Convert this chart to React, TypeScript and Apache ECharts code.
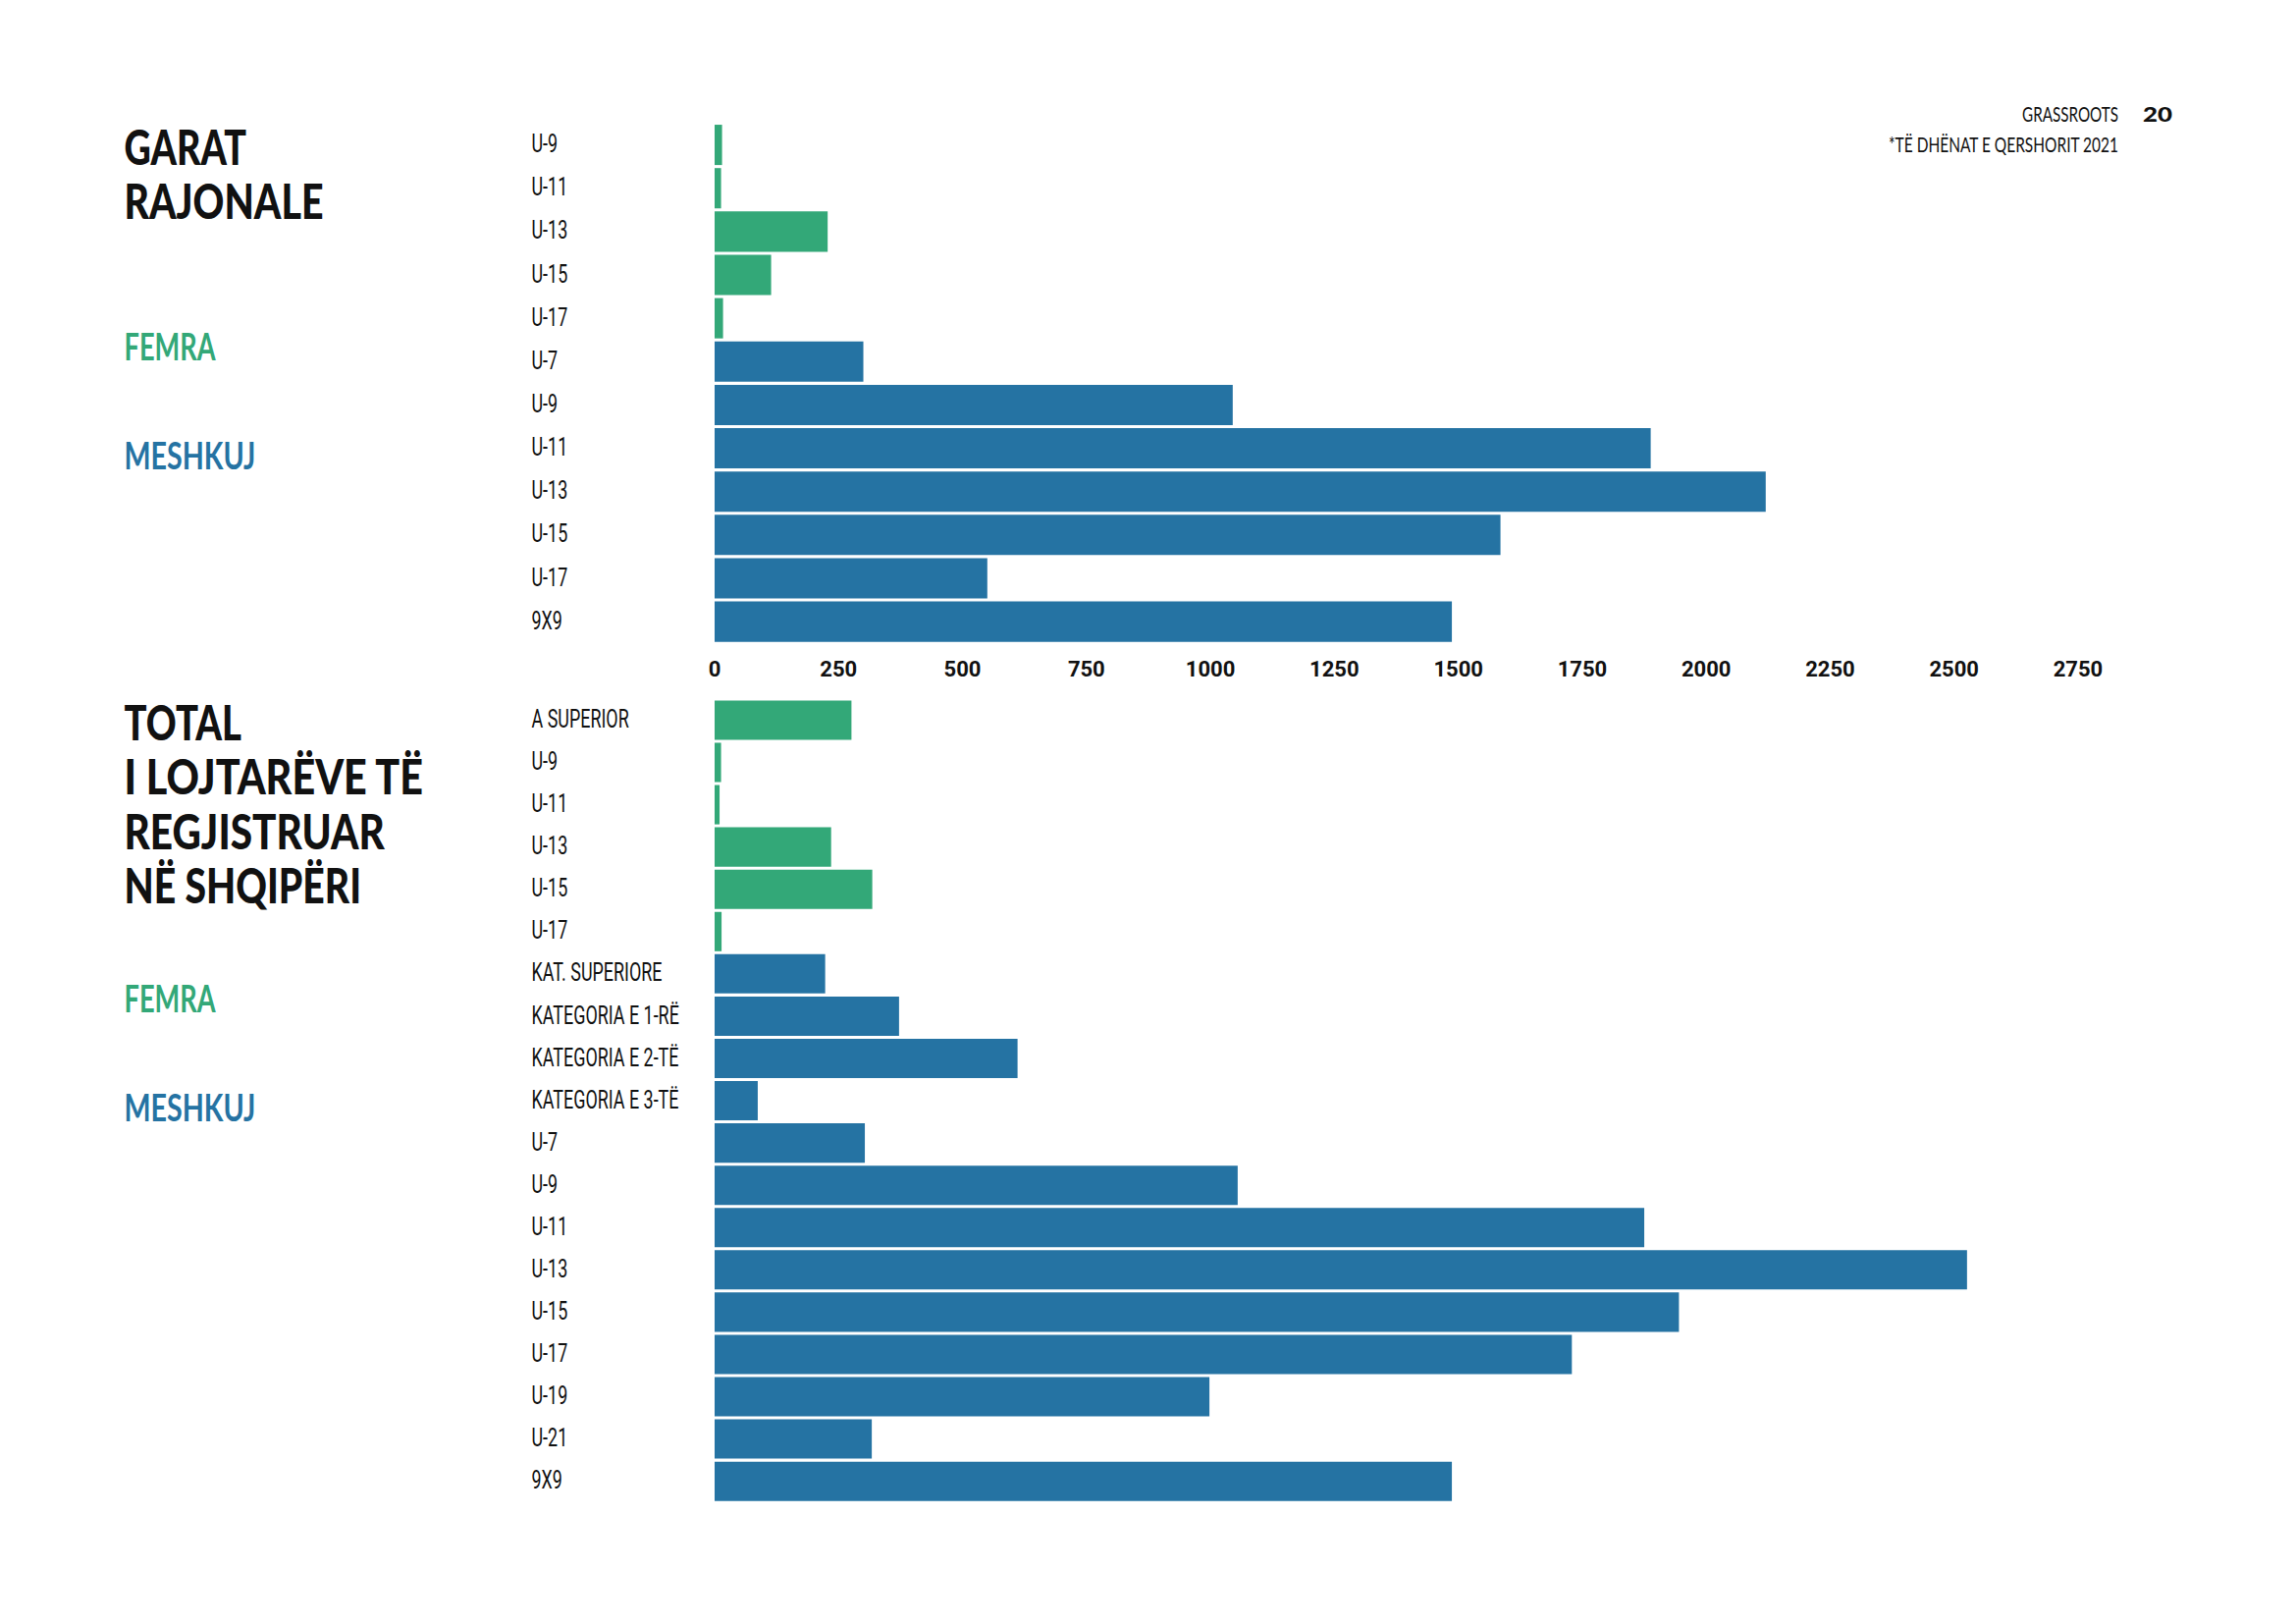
import React, { useEffect, useRef } from "react";
import * as echarts from "echarts";

// ---- data ----
const axisTicks = [0, 250, 500, 750, 1000, 1250, 1500, 1750, 2000, 2250, 2500, 2750];

const regionalFemaleCats = ["U-9", "U-11", "U-13", "U-15", "U-17"];
const regionalFemaleVals = [15, 13, 228, 114, 17];
const regionalMaleCats = ["U-7", "U-9", "U-11", "U-13", "U-15", "U-17", "9X9"];
const regionalMaleVals = [300, 1045, 1888, 2120, 1585, 550, 1487];

const totalFemaleCats = ["A SUPERIOR", "U-9", "U-11", "U-13", "U-15", "U-17"];
const totalFemaleVals = [276, 13, 10, 235, 318, 14];
const totalMaleCats = [
  "KAT. SUPERIORE",
  "KATEGORIA E 1-RË",
  "KATEGORIA E 2-TË",
  "KATEGORIA E 3-TË",
  "U-7",
  "U-9",
  "U-11",
  "U-13",
  "U-15",
  "U-17",
  "U-19",
  "U-21",
  "9X9",
];
const totalMaleVals = [223, 372, 611, 87, 303, 1055, 1875, 2526, 1945, 1729, 998, 317, 1487];

// ---- style ----
const GREEN = "#33a878";
const BLUE = "#2573a3";
const INK = "#111111";
const HEAD = "Lato, Roboto, sans-serif";
const LABEL = "Roboto, 'Noto Sans', sans-serif";

let measureCtx: CanvasRenderingContext2D | null = null;
function measure(text: string, size: number, weight: string | number, family: string) {
  if (!measureCtx) measureCtx = document.createElement("canvas").getContext("2d");
  if (!measureCtx) return 0;
  measureCtx.font = `${weight} ${size}px ${family}`;
  return measureCtx.measureText(text).width;
}
function fitScale(text: string, size: number, weight: string | number, family: string, width: number) {
  const w = measure(text, size, weight, family);
  return w > 0 ? width / w : 1;
}

function headText(
  text: string,
  x: number,
  y: number,
  size: number,
  weight: string | number,
  family: string,
  fill: string,
  width: number,
  align: "left" | "right" = "left"
) {
  return {
    type: "text",
    x,
    y,
    scaleX: fitScale(text, size, weight, family, width),
    silent: true,
    style: {
      text,
      fontSize: size,
      fontWeight: weight,
      fontFamily: family,
      fill,
      align,
      verticalAlign: "middle",
    },
  };
}

export default function App() {
  const ref = useRef<HTMLDivElement>(null);

  useEffect(() => {
    if (!ref.current) return;
    const chart = echarts.init(ref.current, undefined, { renderer: "svg" });

    const regionalCats = [...regionalFemaleCats, ...regionalMaleCats];
    const totalCats = [...totalFemaleCats, ...totalMaleCats];
    const dash = (arr: any[]) => arr.map(() => "-");

    const xMax = axisTicks[axisTicks.length - 1];
    const xStep = axisTicks[1] - axisTicks[0];

    const hiddenCat = {
      axisLine: { show: false },
      axisTick: { show: false },
      splitLine: { show: false },
      axisLabel: { show: false },
    };

    const option: any = {
      animation: false,
      backgroundColor: "#ffffff",
      grid: [
        { left: 728, top: 125.5, width: 1389, height: 529.7 },
        { left: 728, top: 711.9, width: 1389, height: 818.3 },
      ],
      xAxis: [
        {
          type: "value",
          gridIndex: 0,
          min: 0,
          max: xMax,
          interval: xStep,
          axisLine: { show: false },
          axisTick: { show: false },
          splitLine: { show: false },
          axisLabel: {
            margin: 15,
            color: INK,
            fontFamily: LABEL,
            fontSize: 22,
            fontWeight: "bold",
            formatter: (v: number) => String(v),
          },
        },
        {
          type: "value",
          gridIndex: 1,
          min: 0,
          max: xMax,
          interval: xStep,
          show: false,
        },
      ],
      yAxis: [
        { type: "category", gridIndex: 0, inverse: true, data: regionalCats, ...hiddenCat },
        { type: "category", gridIndex: 1, inverse: true, data: totalCats, ...hiddenCat },
      ],
      series: [
        {
          name: "FEMRA",
          type: "bar",
          xAxisIndex: 0,
          yAxisIndex: 0,
          stack: "regional",
          barCategoryGap: "7%",
          itemStyle: { color: GREEN },
          data: [...regionalFemaleVals, ...dash(regionalMaleVals)],
        },
        {
          name: "MESHKUJ",
          type: "bar",
          xAxisIndex: 0,
          yAxisIndex: 0,
          stack: "regional",
          barCategoryGap: "7%",
          itemStyle: { color: BLUE },
          data: [...dash(regionalFemaleVals), ...regionalMaleVals],
        },
        {
          name: "FEMRA",
          type: "bar",
          xAxisIndex: 1,
          yAxisIndex: 1,
          stack: "total",
          barCategoryGap: "7%",
          itemStyle: { color: GREEN },
          data: [...totalFemaleVals, ...dash(totalMaleVals)],
        },
        {
          name: "MESHKUJ",
          type: "bar",
          xAxisIndex: 1,
          yAxisIndex: 1,
          stack: "total",
          barCategoryGap: "7%",
          itemStyle: { color: BLUE },
          data: [...dash(totalFemaleVals), ...totalMaleVals],
        },
      ],
    };

    chart.setOption(option);

    // category labels: condensed, left-aligned, positioned via the category axes
    const labelSize = 25;
    const labelWeight = 400;
    const labelScale = fitScale("KATEGORIA E 3-TË", labelSize, labelWeight, LABEL, 150);
    const labelX = 541.5;
    const catLabels: any[] = [];
    const addLabels = (cats: string[], axisIndex: number) => {
      cats.forEach((c, i) => {
        const py = chart.convertToPixel({ yAxisIndex: axisIndex } as any, i) as any as number;
        catLabels.push({
          type: "text",
          x: labelX,
          y: py - 1,
          scaleX: labelScale,
          silent: true,
          style: {
            text: c,
            fontSize: labelSize,
            fontWeight: labelWeight,
            fontFamily: LABEL,
            fill: INK,
            align: "left",
            verticalAlign: "middle",
          },
        });
      });
    };
    addLabels(regionalCats, 0);
    addLabels(totalCats, 1);

    const heads = [
      headText("GARAT", 126.5, 148, 50, 900, HEAD, INK, 124.5),
      headText("RAJONALE", 126.5, 204, 50, 900, HEAD, INK, 203),
      headText("FEMRA", 126.5, 352, 39, 700, HEAD, GREEN, 93),
      headText("MESHKUJ", 126.5, 463, 39, 700, HEAD, BLUE, 134),

      headText("TOTAL", 126.5, 734, 50, 900, HEAD, INK, 119.5),
      headText("I LOJTARËVE TË", 126.5, 790, 50, 900, HEAD, INK, 306),
      headText("REGJISTRUAR", 126.5, 846, 50, 900, HEAD, INK, 265.5),
      headText("NË SHQIPËRI", 126.5, 901, 50, 900, HEAD, INK, 241.5),
      headText("FEMRA", 126.5, 1016, 39, 700, HEAD, GREEN, 93),
      headText("MESHKUJ", 126.5, 1127, 39, 700, HEAD, BLUE, 134),

      headText("GRASSROOTS", 2158, 116, 21, 400, HEAD, INK, 98, "right"),
      headText("20", 2183, 116, 21, 900, HEAD, INK, 30),
      headText("*TË DHËNAT E QERSHORIT 2021", 2158, 147, 21, 400, HEAD, INK, 235, "right"),
    ];

    chart.setOption({ graphic: [...heads, ...catLabels] });
    return () => chart.dispose();
  }, []);

  return (
    <div
      ref={ref}
      style={{ position: "fixed", left: 0, top: 0, width: 2339, height: 1654, background: "#fff" }}
    />
  );
}
